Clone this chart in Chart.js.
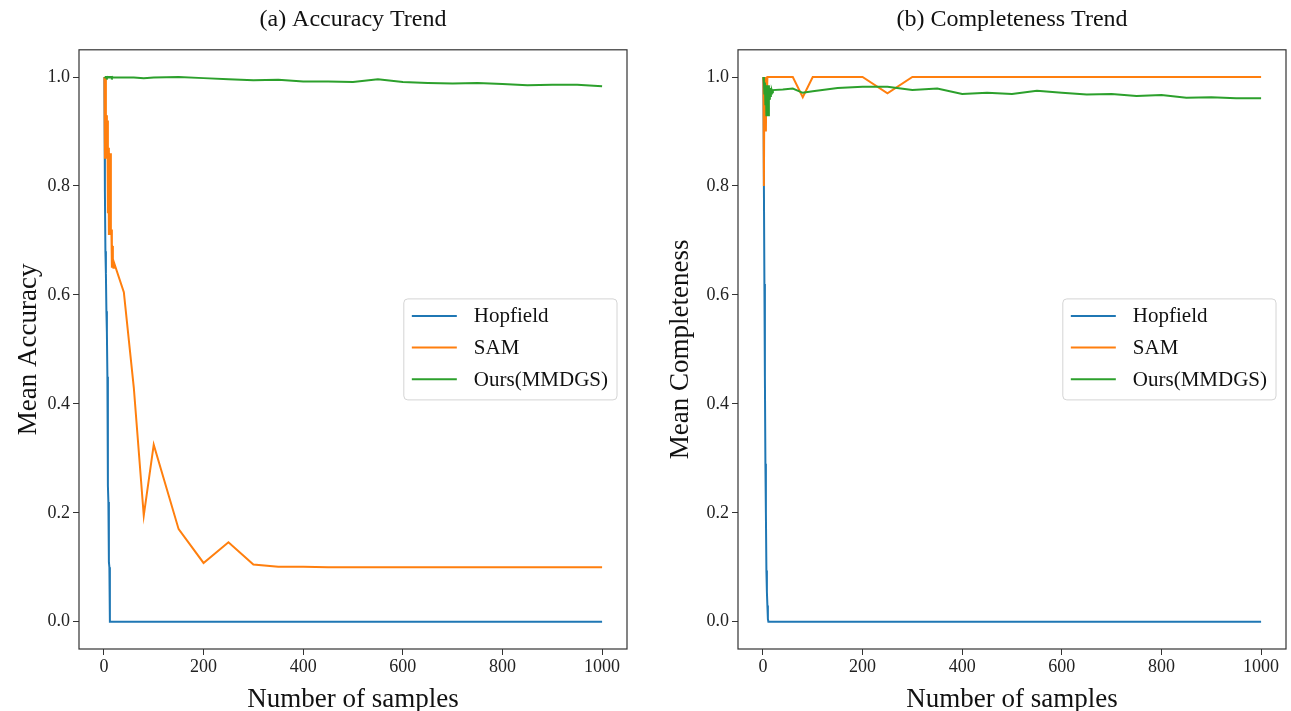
<!DOCTYPE html>
<html>
<head>
<meta charset="utf-8">
<script src="https://cdn.jsdelivr.net/npm/chart.js@4.4.1/dist/chart.umd.min.js"></script>
<style>
  html, body { margin: 0; padding: 0; background: #fff; }
  #wrap { position: relative; width: 1291px; height: 711px; }
  canvas { position: absolute; top: 0; }
  #accChart { left: 0; }
  #compChart { left: 645px; }
</style>
</head>
<body>
<div id="wrap">
  <canvas id="accChart" width="645" height="711"></canvas>
  <canvas id="compChart" width="646" height="711"></canvas>
</div>
<script>
/* data */
var samples = [1,2,3,4,5,6,7,8,9,10,11,12,13,14,15,16,17,18,19,20,40,60,80,100,150,200,250,300,350,400,450,500,550,600,650,700,750,800,850,900,950,1000];

var hopfieldAcc = [1.0,0.79,0.68,0.64,0.57,0.53,0.45,0.25,0.22,0.11,0.10,0.0,0,0,0,0,0,0,0,0,0,0,0,0,0,0,0,0,0,0,0,0,0,0,0,0,0,0,0,0,0,0];
var samAcc = [1.0,0.85,1.0,0.88,0.93,0.85,0.92,0.75,0.87,0.71,0.74,0.71,0.86,0.71,0.72,0.65,0.69,0.66,0.65,0.66,0.605,0.43,0.195,0.325,0.17,0.108,0.146,0.105,0.101,0.101,0.1,0.1,0.1,0.1,0.1,0.1,0.1,0.1,0.1,0.1,0.1,0.1];
var oursAcc = [1.0,1.0,0.999,1.0,1.0,0.999,1.0,1.0,0.999,1.0,1.0,1.0,0.999,1.0,1.0,0.999,1.0,1.0,0.999,0.999,0.999,0.999,0.998,0.999,1.0,0.998,0.996,0.994,0.995,0.992,0.992,0.991,0.996,0.991,0.989,0.988,0.989,0.987,0.985,0.986,0.986,0.983];

var hopfieldComp = [1.0,0.8,0.62,0.45,0.29,0.2,0.094,0.055,0.03,0.005,0,0,0,0,0,0,0,0,0,0,0,0,0,0,0,0,0,0,0,0,0,0,0,0,0,0,0,0,0,0,0,0];
var samComp = [1.0,0.8,1.0,0.92,1.0,0.9,1.0,0.96,1.0,1.0,1.0,1.0,1.0,1.0,1.0,1.0,1.0,1.0,1.0,1.0,1.0,1.0,0.963,1.0,1.0,1.0,0.97,1.0,1.0,1.0,1.0,1.0,1.0,1.0,1.0,1.0,1.0,1.0,1.0,1.0,1.0,1.0];
var oursComp = [1.0,0.99,0.97,0.99,0.95,0.98,0.93,0.985,0.95,0.975,0.93,0.985,0.96,0.98,0.965,0.978,0.97,0.975,0.972,0.976,0.977,0.979,0.971,0.974,0.98,0.982,0.982,0.976,0.979,0.969,0.971,0.969,0.975,0.971,0.968,0.969,0.965,0.967,0.962,0.963,0.961,0.961];

var seriesNames = ['Hopfield', 'SAM', 'Ours(MMDGS)'];
var seriesColors = ['#1f77b4', '#ff7f0e', '#2ca02c'];
var xTicks = [0, 200, 400, 600, 800, 1000];
var yTicks = [0.0, 0.2, 0.4, 0.6, 0.8, 1.0];

var FONT = '"Liberation Serif", "DejaVu Serif", serif';

function toPoints(ys) {
	var pts = [];
	for (var i = 0; i < samples.length; i++) {
		pts.push({ x: samples[i], y: ys[i] });
	}
	return pts;
}

// rounded box path
function roundBox(ctx, x, y, w, h, r) {
	ctx.beginPath();
	ctx.moveTo(x + r, y);
	ctx.arcTo(x + w, y, x + w, y + h, r);
	ctx.arcTo(x + w, y + h, x, y + h, r);
	ctx.arcTo(x, y + h, x, y, r);
	ctx.arcTo(x, y, x + w, y, r);
	ctx.closePath();
}

/* axes frame on all four sides */
var framePlugin = {
	id: 'frame',
	afterDatasetsDraw: function(chart) {
		var a = chart.chartArea, ctx = chart.ctx;
		ctx.save();
		ctx.strokeStyle = '#333';
		ctx.lineWidth = 1.2;
		ctx.strokeRect(a.left, a.top, a.right - a.left, a.bottom - a.top);
		ctx.restore();
	}
};

/* legend box inside the plot, centre right */
var boxLegend = {
	id: 'boxLegend',
	afterDraw: function(chart) {
		var a = chart.chartArea, ctx = chart.ctx;
		var sets = chart.data.datasets;
		ctx.save();
		ctx.font = '21px ' + FONT;
		var textW = 0;
		sets.forEach(function(d) { textW = Math.max(textW, ctx.measureText(d.label).width); });
		var w = 8 + 45 + 17 + textW + 9;
		var h = 101;
		var left = a.right - 10 - w;
		var top = (a.top + a.bottom) / 2 - h / 2;
		roundBox(ctx, left, top, w, h, 4);
		ctx.fillStyle = 'rgba(255,255,255,0.85)';
		ctx.fill();
		ctx.strokeStyle = '#d4d4d4';
		ctx.lineWidth = 1;
		ctx.stroke();
		sets.forEach(function(d, i) {
			var y = top + 17 + i * 31.7;
			ctx.beginPath();
			ctx.moveTo(left + 8, y);
			ctx.lineTo(left + 53, y);
			ctx.strokeStyle = d.borderColor;
			ctx.lineWidth = 2;
			ctx.stroke();
			ctx.fillStyle = '#111';
			ctx.textBaseline = 'middle';
			ctx.textAlign = 'left';
			ctx.fillText(d.label, left + 70, y + 1);
		});
		ctx.restore();
	}
};

function makeChart(canvasId, titleText, yLabel, seriesList, yAxisWidth, rightPad, yTitlePad) {
	var datasets = seriesList.map(function(ys, i) {
		return {
			label: seriesNames[i],
			data: toPoints(ys),
			borderColor: seriesColors[i],
			backgroundColor: seriesColors[i],
			borderWidth: 2,
			pointRadius: 0,
			tension: 0,
			order: 3 - i
		};
	});

	return new Chart(document.getElementById(canvasId), {
		type: 'line',
		data: { datasets: datasets },
		options: {
			responsive: false,
			animation: false,
			devicePixelRatio: 1,
			layout: { padding: { left: 0, right: rightPad, top: 0, bottom: 0 } },
			plugins: {
				legend: { display: false },
				tooltip: { enabled: false },
				title: {
					display: true,
					text: titleText,
					fullSize: false,
					color: '#111',
					font: { family: FONT, size: 24, weight: 'normal' },
					padding: { top: 5, bottom: 16 }
				}
			},
			scales: {
				x: {
					type: 'linear',
					min: -50,
					max: 1050,
					afterBuildTicks: function(s) { s.ticks = xTicks.map(function(v) { return { value: v }; }); },
					afterFit: function(s) { s.height = 62; },
					grid: { display: true, drawOnChartArea: false, drawTicks: true, tickLength: 6, color: '#333' },
					border: { display: false },
					ticks: {
						autoSkip: false, maxRotation: 0, padding: 1, color: '#222',
						font: { family: FONT, size: 18 },
						callback: function(v) { return String(v); }
					},
					title: {
						display: true, text: 'Number of samples', color: '#111',
						font: { family: FONT, size: 27, lineHeight: 0.8 },
						padding: { top: 4, bottom: 0 }
					}
				},
				y: {
					type: 'linear',
					min: -0.05,
					max: 1.05,
					afterBuildTicks: function(s) { s.ticks = yTicks.map(function(v) { return { value: v }; }); },
					afterFit: function(s) { s.width = yAxisWidth; },
					grid: { display: true, drawOnChartArea: false, drawTicks: true, tickLength: 6, color: '#333' },
					border: { display: false },
					ticks: {
						autoSkip: false, padding: 3, color: '#222',
						font: { family: FONT, size: 18 },
						callback: function(v) { return v.toFixed(1); }
					},
					title: {
						display: true, text: yLabel, color: '#111',
						font: { family: FONT, size: 27 },
						padding: { top: yTitlePad, bottom: 0 }
					}
				}
			}
		},
		plugins: [framePlugin, boxLegend]
	});
}

makeChart('accChart', '(a) Accuracy Trend', 'Mean Accuracy', [hopfieldAcc, samAcc, oursAcc], 79, 18, 13);
makeChart('compChart', '(b) Completeness Trend', 'Mean Completeness', [hopfieldComp, samComp, oursComp], 93, 5, 20);
</script>
</body>
</html>
